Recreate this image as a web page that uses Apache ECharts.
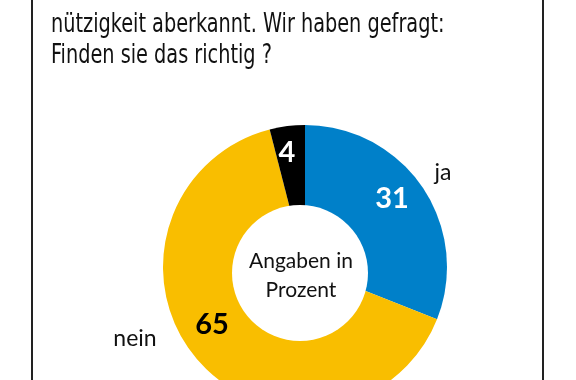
<!DOCTYPE html>
<html>
<head>
<meta charset="utf-8">
<script src="https://cdn.jsdelivr.net/npm/echarts@6/dist/echarts.min.js"></script>
<style>
html,body{margin:0;padding:0;background:#fff;}
#c{width:576px;height:380px;}
</style>
</head>
<body>
<div id="c"></div>
<script>
// Data
var categories = ['ja', 'nein', 'weiß nicht'];
var values = [31, 65, 4];
var nameLabels = ['ja', 'nein', ''];
var titleLines = ['nützigkeit aberkannt. Wir haben gefragt:', 'Finden sie das richtig ?'];
var centerText = ['Angaben in', 'Prozent'];

// Styles / positions (not data)
var colors = ['#0080C9', '#F9BE00', '#000000'];
var valueColors = ['#ffffff', '#000000', '#ffffff'];
var valuePos = [[392, 199], [212, 325], [287, 153]];
var namePos = [[443, 173], [135, 339], [0, 0]];
var humanist = 'Lato, "Noto Sans", sans-serif';
var condensed = '"DejaVu Sans Condensed", "Liberation Sans Narrow", sans-serif';

var chart = echarts.init(document.getElementById('c'), null, {renderer: 'canvas'});

var mainData = categories.map(function (c, i) {
  return {
    name: c,
    value: values[i],
    itemStyle: {color: colors[i]},
    label: {color: valueColors[i]}
  };
});
var nameData = categories.map(function (c, i) {
  return {name: nameLabels[i], value: values[i]};
});

var titleGraphics = titleLines.map(function (t, i) {
  return {
    type: 'text',
    x: 51,
    y: 12 + i * 31,
    scaleX: 0.825,
    silent: true,
    style: {
      text: t,
      fontFamily: condensed,
      fontSize: 26,
      fill: '#111',
      verticalAlign: 'top'
    }
  };
});

var option = {
  animation: false,
  graphic: [
    {type: 'line', shape: {x1: 32, y1: 0, x2: 32, y2: 380}, style: {stroke: '#222', lineWidth: 2}},
    {type: 'line', shape: {x1: 543, y1: 0, x2: 543, y2: 380}, style: {stroke: '#222', lineWidth: 2}}
  ].concat(titleGraphics),
  series: [
    {
      type: 'pie',
      center: [305, 267],
      radius: [0, 142],
      startAngle: 90,
      clockwise: true,
      silent: true,
      data: mainData,
      itemStyle: {borderWidth: 0},
      label: {
        show: true,
        position: 'inside',
        formatter: '{c}',
        fontFamily: humanist,
        fontWeight: 'bold',
        fontSize: 29
      },
      labelLine: {show: false},
      labelLayout: function (p) {
        var q = valuePos[p.dataIndex];
        return {x: q[0], y: q[1], align: 'center', verticalAlign: 'middle'};
      }
    },
    {
      type: 'pie',
      center: [305, 267],
      radius: [0, 142],
      startAngle: 90,
      clockwise: true,
      silent: true,
      z: 1,
      data: nameData,
      itemStyle: {color: 'rgba(0,0,0,0)', borderWidth: 0},
      label: {
        show: true,
        position: 'outside',
        formatter: '{b}',
        fontFamily: humanist,
        fontSize: 23,
        color: '#111'
      },
      labelLine: {show: false},
      labelLayout: function (p) {
        var q = namePos[p.dataIndex];
        return {x: q[0], y: q[1], align: 'center', verticalAlign: 'middle'};
      }
    },
    {
      type: 'pie',
      center: [300, 273],
      radius: [0, 68],
      silent: true,
      z: 3,
      data: [{value: 1, name: centerText.join('\n')}],
      itemStyle: {color: '#ffffff', borderWidth: 0},
      label: {
        show: true,
        position: 'center',
        formatter: '{b}',
        fontFamily: humanist,
        fontSize: 21,
        lineHeight: 29,
        color: '#111',
        offset: [1, 3]
      },
      labelLine: {show: false}
    }
  ]
};
chart.setOption(option);
</script>
</body>
</html>
